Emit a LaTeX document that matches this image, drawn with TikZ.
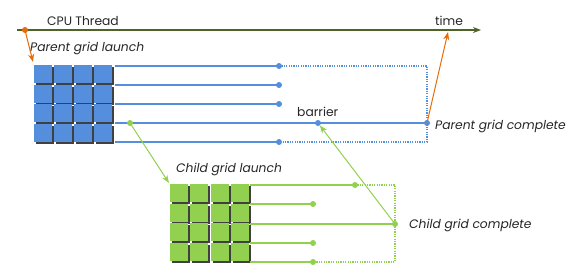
\documentclass[tikz,border=0pt]{standalone}
\usepackage{fontspec}
\setmainfont{Poppins}
\usetikzlibrary{arrows.meta}
\definecolor{cpugreen}{RGB}{79,98,40}
\definecolor{parentblue}{RGB}{85,142,220}
\definecolor{childgreen}{RGB}{146,208,80}
\definecolor{launchorange}{RGB}{228,108,10}
\definecolor{shadowgray}{RGB}{64,64,64}
\definecolor{textgray}{RGB}{38,38,38}
\tikzset{
  pline/.style={parentblue, line width=1.2pt},
  cline/.style={childgreen, line width=1.2pt},
  dotline/.style={dash pattern=on 1.2pt off 1.2pt},
  label/.style={inner sep=0pt, anchor=base west, text=textgray},
}

\begin{document}
\begin{tikzpicture}[x=1pt, y=-1pt, >={Stealth[length=8pt,width=6pt]}, font=\fontsize{12.3}{14}\selectfont]
  \useasboundingbox (0,0) rectangle (582,269);
  % CPU thread
  \coordinate (cpustart) at (17,30);
  \coordinate (cpuend) at (481,30);
  \coordinate (cpulaunch) at (25,30);
  \coordinate (cpureturn) at (448,32);
  \draw[cpugreen, line width=1.2pt, ->] (cpustart) -- (cpuend);
  \node[label] (cpulabel) at (47,25) {CPU Thread};
  \node[label] (timelabel) at (435,25) {time};
  % parent grid
  \foreach \i in {0,...,3}
    \foreach \j in {0,...,3} {
      \fill[shadowgray] (36+20*\i, 67+19.5*\j) rectangle ++(18,18);
      \fill[parentblue] (34+20*\i, 65+19.5*\j) rectangle ++(18,18);
    }
  \coordinate (plaunch) at (33,62);
  \node[label] (plaunchlabel) at (30,51) {\itshape Parent grid launch};
  \foreach \n/\y in {1/66,2/85,3/104,4/123,5/142} {
    \coordinate (pstart\n) at (115,\y);
    \coordinate (pend\n) at (279,\y);
  }
  \coordinate (pspawn) at (130,123);
  \coordinate (barrier) at (318,123);
  \coordinate (pdone) at (427,123);
  \foreach \n in {1,2,3,5} {
    \draw[pline] (pstart\n) -- (pend\n);
    \fill[parentblue] (pend\n) circle (3);
  }
  \draw[pline] (pstart4) -- (pdone);
  \draw[pline, dotline] (pend1) -| (pdone) |- (pend5);
  \fill[parentblue] (barrier) circle (3);
  \fill[parentblue] (pdone) circle (3);
  \node[label] (barrierlabel) at (297,116) {barrier};
  \node[label] (pdonelabel) at (435,129) {\itshape Parent grid complete};
  % child grid
  \foreach \i in {0,...,3}
    \foreach \j in {0,...,3} {
      \fill[shadowgray] (172+20.3*\i, 186+19.5*\j) rectangle ++(18,18);
      \fill[childgreen] (170+20.3*\i, 184+19.5*\j) rectangle ++(18,18);
    }
  \coordinate (clanch) at (169,183);
  \node[label] (clanchlabel) at (176,172) {\itshape Child grid launch};
  \foreach \n/\y in {1/185,2/204,3/224,4/243,5/262} {
    \coordinate (cstart\n) at (250,\y);
    \coordinate (cend\n) at (313,\y);
  }
  \coordinate (cend1) at (355,185);
  \coordinate (cdone) at (395,224);
  \foreach \n in {1,2,4,5} {
    \draw[cline] (cstart\n) -- (cend\n);
    \fill[childgreen] (cend\n) circle (3);
  }
  \draw[cline] (cstart3) -- (cdone);
  \draw[cline, dotline] (cend1) -| (cdone) |- (cend5);
  \fill[childgreen] (cdone) circle (3);
  \node[label] (cdonelabel) at (409,228) {\itshape Child grid complete};
  % launch and return arrows
  \fill[launchorange] (cpulaunch) circle (3);
  \draw[launchorange, line width=1pt, ->] (cpulaunch) -- (plaunch);
  \draw[launchorange, line width=1pt, ->] (pdone) -- (cpureturn);
  \fill[childgreen] (pspawn) circle (3);
  \draw[childgreen, line width=1pt, ->] (pspawn) -- (clanch);
  \draw[childgreen, line width=1pt, ->, shorten >=3pt] (cdone) -- (barrier);
\end{tikzpicture}
\end{document}
